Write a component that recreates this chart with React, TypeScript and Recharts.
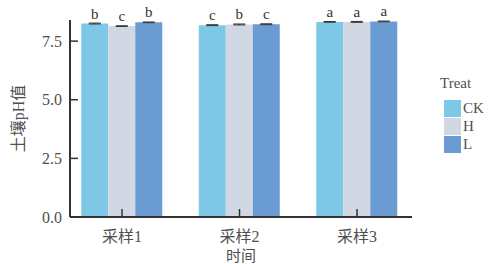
import React from 'react';
import { BarChart, Bar, XAxis, YAxis, ErrorBar, LabelList, Legend } from 'recharts';

const categories = ['采样1', '采样2', '采样3'];
const positions = [1, 2, 3];
const ckValues = [8.25, 8.18, 8.32];
const hValues = [8.14, 8.21, 8.32];
const lValues = [8.30, 8.22, 8.34];
const ckErr = [0.02, 0.02, 0.015];
const hErr = [0.015, 0.02, 0.02];
const lErr = [0.015, 0.02, 0.015];
const ckLetters = ['b', 'c', 'a'];
const hLetters = ['c', 'b', 'a'];
const lLetters = ['b', 'c', 'a'];
const yTicks = [0, 2.5, 5, 7.5];
const seriesNames = ['CK', 'H', 'L'];
const seriesColors = ['#7fc7e7', '#d2d7e4', '#6a9bd2'];

const data = categories.map((c, i) => ({
  x: positions[i],
  name: c,
  CK: ckValues[i],
  H: hValues[i],
  L: lValues[i],
  ckErr: ckErr[i],
  hErr: hErr[i],
  lErr: lErr[i],
  ckLetter: ckLetters[i],
  hLetter: hLetters[i],
  lLetter: lLetters[i],
}));

const FONT = '"Liberation Serif", "DejaVu Serif", "Noto Sans CJK SC", serif';
const AXIS_COLOR = '#333333';
const TEXT_COLOR = '#4f4f4f';

const LegendContent = () => (
  <div style={{ position: 'relative', width: 60, height: 82, fontFamily: FONT, color: TEXT_COLOR }}>
    <div style={{ position: 'absolute', left: 2, top: 0, fontSize: 15, lineHeight: '18px' }}>Treat</div>
    {seriesNames.map((n, i) => (
      <div key={n} style={{ position: 'absolute', left: 6, top: 26 + i * 18, height: 17, display: 'flex', alignItems: 'center' }}>
        <div style={{ width: 17, height: 17, background: seriesColors[i] }} />
        <span style={{ marginLeft: 2, fontSize: 15, lineHeight: '17px' }}>{n}</span>
      </div>
    ))}
  </div>
);

export default function App() {
  return (
    <div style={{ position: 'absolute', left: 0, top: 0, width: 492, height: 264, background: '#fff' }}>
      <BarChart
        width={492}
        height={264}
        data={data}
        margin={{ top: 20, right: 80, bottom: 0, left: 0 }}
        barGap={0}
      >
        <XAxis
          dataKey="x"
          type="number"
          domain={[0.5574, 3.468]}
          allowDataOverflow
          ticks={positions}
          tickFormatter={(v: number) => categories[v - 1]}
          height={47}
          tickSize={-8}
          tickMargin={22}
          axisLine={{ stroke: AXIS_COLOR, strokeWidth: 2 }}
          tickLine={{ stroke: AXIS_COLOR, strokeWidth: 1.5 }}
          tick={{ fill: TEXT_COLOR, fontSize: 16, fontFamily: FONT }}
          label={{ value: '时间', position: 'insideBottom', offset: 3, fill: TEXT_COLOR, fontSize: 15, fontFamily: FONT }}
        />
        <YAxis
          type="number"
          domain={[0, 8.4]}
          allowDataOverflow
          ticks={yTicks}
          tickFormatter={(v: number) => v.toFixed(1)}
          width={70}
          tickSize={-8}
          tickMargin={16}
          axisLine={{ stroke: AXIS_COLOR, strokeWidth: 2 }}
          tickLine={{ stroke: AXIS_COLOR, strokeWidth: 1.5 }}
          tick={{ fill: TEXT_COLOR, fontSize: 16, fontFamily: FONT }}
          label={{ value: '土壤pH值', angle: -90, position: 'center', dx: -17, fill: TEXT_COLOR, fontSize: 16, fontFamily: FONT }}
        />
        <Legend
          layout="vertical"
          align="center"
          verticalAlign="middle"
          wrapperStyle={{ left: 438, top: 74, width: 60 }}
          content={LegendContent}
        />
        <Bar dataKey="CK" fill={seriesColors[0]} barSize={27} isAnimationActive={false}>
          <ErrorBar dataKey="ckErr" width={6} stroke={AXIS_COLOR} strokeWidth={1} />
          <LabelList dataKey="ckLetter" position="top" offset={5} fill={AXIS_COLOR} fontSize={15} fontFamily={FONT} />
        </Bar>
        <Bar dataKey="H" fill={seriesColors[1]} barSize={27} isAnimationActive={false}>
          <ErrorBar dataKey="hErr" width={6} stroke={AXIS_COLOR} strokeWidth={1} />
          <LabelList dataKey="hLetter" position="top" offset={5} fill={AXIS_COLOR} fontSize={15} fontFamily={FONT} />
        </Bar>
        <Bar dataKey="L" fill={seriesColors[2]} barSize={27} isAnimationActive={false}>
          <ErrorBar dataKey="lErr" width={6} stroke={AXIS_COLOR} strokeWidth={1} />
          <LabelList dataKey="lLetter" position="top" offset={5} fill={AXIS_COLOR} fontSize={15} fontFamily={FONT} />
        </Bar>
      </BarChart>
    </div>
  );
}
